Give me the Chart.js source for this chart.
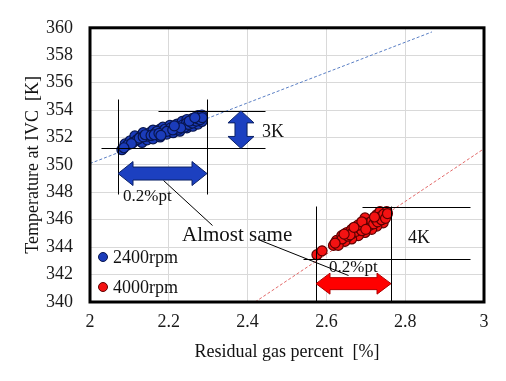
<!DOCTYPE html>
<html><head><meta charset="utf-8">
<style>html,body{margin:0;padding:0;background:#fff}</style>
</head><body>
<canvas id="c" width="506" height="381"></canvas>
<script src="https://cdn.jsdelivr.net/npm/chart.js@4.4.0/dist/chart.umd.min.js"></script>
<script>
// ---- data ----
const seriesNames = ['2400rpm', '4000rpm'];
const xTickValues = [2, 2.2, 2.4, 2.6, 2.8, 3];
const xTickLabels = ['2', '2.2', '2.4', '2.6', '2.8', '3'];
const yTickValues = [340, 342, 344, 346, 348, 350, 352, 354, 356, 358, 360];
const yTickLabels = ['340', '342', '344', '346', '348', '350', '352', '354', '356', '358', '360'];

const rpm2400X = [2.081,2.089,2.102,2.114,2.127,2.135,2.152,2.160,2.178,2.185,2.203,2.221,2.234,2.246,2.261,2.274,2.284,
  2.109,2.132,2.145,2.160,2.178,2.195,2.211,2.228,2.246,2.261,2.274,2.284,2.279,
  2.145,2.165,2.170,2.185,2.190,2.200,2.205,2.215,2.220,2.225,2.235,2.240,2.245,2.250,2.255,2.260,2.265,2.270,2.275,2.280,2.285,
  2.120,2.125,2.135,2.140,2.155,2.163,2.175,2.195,2.210,2.230,2.252,2.266,2.180,2.214,2.095,2.105,2.086];
const rpm2400Y = [351.11,351.53,351.76,352.11,352.04,352.35,352.35,352.54,352.61,352.75,352.89,352.98,353.17,353.31,353.40,353.59,353.64,
  351.64,351.64,351.83,351.90,352.04,352.25,352.35,352.46,352.70,352.82,352.98,353.17,353.40,
  352.10,352.30,352.45,352.40,352.60,352.55,352.70,352.65,352.80,352.60,352.90,352.75,353.05,352.95,353.15,353.05,353.25,353.20,353.35,353.30,353.45,
  351.85,351.95,352.05,352.20,352.15,352.20,352.30,352.45,352.55,352.70,353.20,353.45,352.15,352.85,351.45,351.55,351.25];

const rpm4000X = [2.576,2.589,2.618,2.626,2.639,2.652,2.664,2.677,2.694,2.698,2.719,2.728,2.736,2.749,2.753,2.744,2.728,2.715,2.698,2.681,2.664,2.647,2.630,
  2.640,2.655,2.665,2.675,2.685,2.690,2.700,2.705,2.710,2.715,2.720,2.725,2.730,2.735,2.740,2.745,2.750,2.680,2.690,2.700,2.660,2.670,2.622,2.645,2.755,2.722];
const rpm4000Y = [343.45,343.73,344.13,344.49,344.84,345.07,345.30,345.42,345.65,346.13,346.01,346.36,346.60,346.25,346.60,345.77,345.54,345.30,345.07,344.84,344.60,344.42,344.13,
  344.60,344.80,345.00,345.15,345.35,345.20,345.50,345.75,345.60,345.90,345.70,346.05,345.85,346.20,346.00,346.40,346.10,345.60,345.85,345.30,344.90,345.45,344.30,344.95,346.45,346.20];

const trend2400X = [2, 2.868];
const trend2400Y = [350.1, 359.7];
const trend4000X = [2.419, 3];
const trend4000Y = [340, 351.18];

// ---- annotation geometry (data units) ----
const guideLines = [
  [2.0711, 354.79, 2.0711, 347.89],
  [2.297, 354.79, 2.297, 347.89],
  [2.1726, 353.94, 2.4442, 353.94],
  [2.0279, 351.20, 2.4442, 351.20],
  [2.5736, 346.97, 2.5736, 340],
  [2.764, 346.97, 2.764, 340],
  [2.6904, 346.90, 2.9645, 346.90],
  [2.5406, 343.10, 2.9645, 343.10]
];
const leaderLines = [
  [2.1853, 348.87, 2.3096, 345.63],
  [2.4315, 344.51, 2.6548, 341.97]
];
const arrows = [
  {x1: 2.0711, y1: 349.37, x2: 2.297, y2: 349.37, hw: 12, sw: 6.5, hl: 15, fill: '#1c40c0', stroke: '#0b2166'},
  {x1: 2.3832, y1: 353.94, x2: 2.3832, y2: 351.20, hw: 13, sw: 6, hl: 12, fill: '#1c40c0', stroke: '#0b2166'},
  {x1: 2.5736, y1: 341.34, x2: 2.764, y2: 341.34, hw: 10.5, sw: 6, hl: 14, fill: '#ff0000', stroke: '#b00000'}
];
const labels = [
  {text: '3K', x: 2.4365, y: 352.46, size: 18, box: false},
  {text: '0.2%pt', x: 2.0838, y: 347.75, size: 17, box: false},
  {text: '4K', x: 2.8071, y: 344.72, size: 18, box: false},
  {text: '0.2%pt', x: 2.6066, y: 342.61, size: 17, box: true},
  {text: 'Almost same', x: 2.2335, y: 344.93, size: 21, box: false}
];

const SERIF = '"Liberation Serif", "Times New Roman", serif';

const annotPlugin = {
  id: 'annot',
  afterDatasetsDraw(chart) {
    const {ctx, chartArea: a, scales: {x, y}} = chart;
    const X = v => x.getPixelForValue(v), Y = v => y.getPixelForValue(v);
    ctx.save();
    ctx.textBaseline = 'middle';
    ctx.textAlign = 'left';
    labels.forEach(l => {
      ctx.font = l.size + 'px ' + SERIF;
      const px = X(l.x), py = Y(l.y);
      if (l.box) {
        const w = ctx.measureText(l.text).width;
        ctx.fillStyle = '#fff';
        ctx.fillRect(px - 3, py - 8, w + 5, 16);
      }
      ctx.fillStyle = '#111';
      ctx.fillText(l.text, px, py + 1);
    });
    ctx.strokeStyle = '#000';
    ctx.lineWidth = 1;
    guideLines.concat(leaderLines).forEach(l => {
      ctx.beginPath();
      ctx.moveTo(Math.round(X(l[0])) + 0.5, Math.round(Y(l[1])) + 0.5);
      ctx.lineTo(Math.round(X(l[2])) + 0.5, Math.round(Y(l[3])) + 0.5);
      ctx.stroke();
    });
    arrows.forEach(ar => {
      const x1 = X(ar.x1), y1 = Y(ar.y1), x2 = X(ar.x2), y2 = Y(ar.y2);
      const len = Math.hypot(x2 - x1, y2 - y1);
      const dx = (x2 - x1) / len, dy = (y2 - y1) / len;
      const nx = -dy, ny = dx;
      const P = (t, n) => [x1 + dx * t + nx * n, y1 + dy * t + ny * n];
      const pts = [P(0, 0), P(ar.hl, ar.hw), P(ar.hl, ar.sw), P(len - ar.hl, ar.sw), P(len - ar.hl, ar.hw), P(len, 0),
        P(len - ar.hl, -ar.hw), P(len - ar.hl, -ar.sw), P(ar.hl, -ar.sw), P(ar.hl, -ar.hw)];
      ctx.beginPath();
      pts.forEach((p, i) => i ? ctx.lineTo(p[0], p[1]) : ctx.moveTo(p[0], p[1]));
      ctx.closePath();
      ctx.fillStyle = ar.fill;
      ctx.fill();
      ctx.strokeStyle = ar.stroke;
      ctx.lineWidth = 1;
      ctx.stroke();
    });
    ctx.font = '18px ' + SERIF;
    chart.data.datasets.slice(0, 2).forEach((ds, i) => {
      const cy = a.bottom - 45 + i * 30;
      const cx = a.left + 13;
      ctx.beginPath();
      ctx.arc(cx, cy, 4.5, 0, Math.PI * 2);
      ctx.fillStyle = ds.backgroundColor;
      ctx.fill();
      ctx.strokeStyle = ds.borderColor;
      ctx.stroke();
      ctx.fillStyle = '#111';
      ctx.fillText(ds.label, cx + 10, cy + 1);
    });
    ctx.strokeStyle = '#000';
    ctx.lineWidth = 3;
    ctx.strokeRect(a.left, a.top, a.right - a.left, a.bottom - a.top);
    ctx.restore();
  }
};

const toPts = (xs, ys) => xs.map((v, i) => ({x: v, y: ys[i]}));

new Chart(document.getElementById('c'), {
  type: 'scatter',
  data: {
    datasets: [
      {label: seriesNames[0], data: toPts(rpm2400X, rpm2400Y), backgroundColor: '#1b3cba', borderColor: '#08154d', borderWidth: 1.2, pointRadius: 5},
      {label: seriesNames[1], data: toPts(rpm4000X, rpm4000Y), backgroundColor: '#f41212', borderColor: '#5e0000', borderWidth: 1.2, pointRadius: 5},
      {label: 'trend2400', data: toPts(trend2400X, trend2400Y), showLine: true, pointRadius: 0, borderColor: '#5a7fc4', borderWidth: 1, borderDash: [3, 2], fill: false},
      {label: 'trend4000', data: toPts(trend4000X, trend4000Y), showLine: true, pointRadius: 0, borderColor: '#e26a6a', borderWidth: 1, borderDash: [3, 2], fill: false}
    ]
  },
  options: {
    responsive: false,
    animation: false,
    devicePixelRatio: 1,
    layout: {padding: {left: 0, top: 18, right: 22, bottom: 0}},
    plugins: {legend: {display: false}, tooltip: {enabled: false}},
    scales: {
      x: {
        type: 'linear', min: 2, max: 3,
        afterBuildTicks: s => { s.ticks = xTickValues.map(v => ({value: v})); },
        afterFit: s => { s.height = 79; },
        grid: {color: '#d9d9d9', lineWidth: 1, drawTicks: false},
        border: {display: false},
        ticks: {padding: 9, color: '#1a1a1a', font: {family: SERIF, size: 18}, maxRotation: 0, autoSkip: false,
          callback: (v, i) => xTickLabels[i]},
        title: {display: true, text: 'Residual gas percent  [%]', color: '#111', font: {family: SERIF, size: 18}, padding: {top: 0, bottom: 18}}
      },
      y: {
        type: 'linear', min: 340, max: 360,
        afterBuildTicks: s => { s.ticks = yTickValues.map(v => ({value: v})); },
        afterFit: s => { s.width = 90; },
        grid: {color: '#d9d9d9', lineWidth: 1, drawTicks: false},
        border: {display: false},
        ticks: {padding: 17, color: '#1a1a1a', font: {family: SERIF, size: 18}, autoSkip: false,
          callback: (v, i) => yTickLabels[i]},
        title: {display: true, text: 'Temperature at IVC  [K]', color: '#111', font: {family: SERIF, size: 18}, padding: {top: 22, bottom: 0}}
      }
    }
  },
  plugins: [annotPlugin]
});
</script>
</body></html>
